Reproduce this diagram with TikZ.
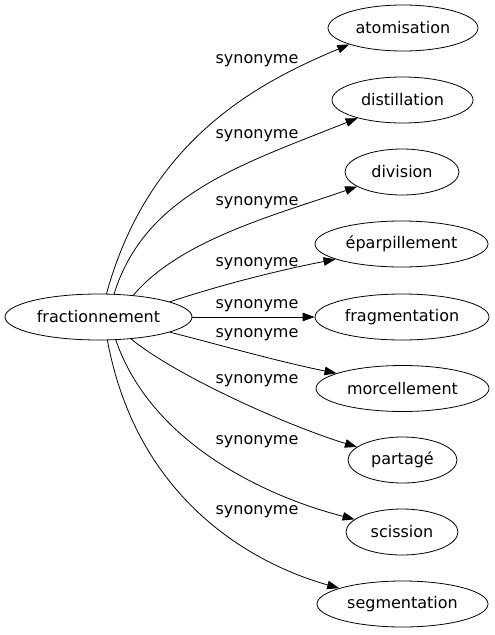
\documentclass[tikz,border=0pt]{standalone}
\usepackage{fontspec}
\setmainfont{DejaVu Sans}
\usetikzlibrary{shapes.geometric,arrows.meta}
\begin{document}
\begin{tikzpicture}[x=1pt,y=-1pt,
  term/.style={draw,ellipse,inner sep=0pt,minimum height=46pt,line width=0.8pt,font=\fontsize{16}{19}\selectfont},
  rel/.style={draw,line width=0.8pt,-{Triangle[length=12pt,width=8.5pt]}},
  lbl/.style={font=\fontsize{16}{19}\selectfont,inner sep=0pt}]
\useasboundingbox (0,0) rectangle (495,635);
\node[term,minimum width=187pt] (src) at (98.5,317) {fractionnement};
\node[term,minimum width=150pt] (n1) at (403,28) {atomisation};
\node[term,minimum width=141pt] (n2) at (402.5,100) {distillation};
\node[term,minimum width=114pt] (n3) at (402,172) {division};
\node[term,minimum width=173pt] (n4) at (401.5,244) {éparpillement};
\node[term,minimum width=174pt] (n5) at (402,317) {fragmentation};
\node[term,minimum width=173pt] (n6) at (402.5,388.5) {morcellement};
\node[term,minimum width=109pt] (n7) at (402.5,460) {partagé};
\node[term,minimum width=112pt] (n8) at (402,532) {scission};
\node[term,minimum width=171pt] (n9) at (402.5,604) {segmentation};
\path[rel] (src.71) .. controls (150,135) and (265,80) .. (n1.197.8);
\path[rel] (src.56.6) .. controls (145,195) and (240,165) .. (n2.202.7);
\path[rel] (src.32.7) .. controls (180,240) and (275,215) .. (n3.198);
\path[rel] (src.12.8) .. controls (220,285) and (280,270) .. (n4.193.5);
\path[rel] (src) -- (n5);
\path[rel] (src.-12.8) .. controls (220,345) and (280,362) .. (n6.167);
\path[rel] (src.-34.6) .. controls (175,375) and (285,425) .. (n7.164);
\path[rel] (src.-53.9) .. controls (150,440) and (260,495) .. (n8.165.7);
\path[rel] (src.-69.6) .. controls (135,490) and (240,560) .. (n9.166.7);
\node[lbl] (l1) at (257,61) {synonyme};
\node[lbl] (l2) at (257,136) {synonyme};
\node[lbl] (l3) at (257,203) {synonyme};
\node[lbl] (l4) at (257,264) {synonyme};
\node[lbl] (l5) at (257,306) {synonyme};
\node[lbl] (l6) at (257,335) {synonyme};
\node[lbl] (l7) at (257,381) {synonyme};
\node[lbl] (l8) at (257,442) {synonyme};
\node[lbl] (l9) at (257,512) {synonyme};
\end{tikzpicture}
\end{document}
